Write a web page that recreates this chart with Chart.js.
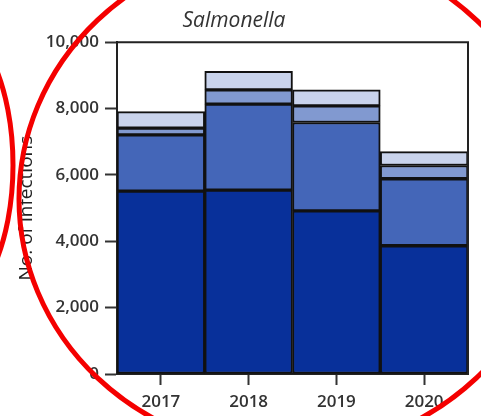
<!DOCTYPE html>
<html>
<head>
<meta charset="utf-8">
<script src="https://cdn.jsdelivr.net/npm/chart.js@4.4.1/dist/chart.umd.min.js"></script>
<style>
  body { margin: 0; background: #fff; }
  canvas { display: block; }
</style>
</head>
<body>
<canvas id="grafica" width="481" height="416"></canvas>
<script>
// Salmonella infections per year, stacked by category (bottom -> top)
var years = ['2017', '2018', '2019', '2020'];
var serieOscura = [5510, 5540, 4915, 3865];
var serieMedia = [1695, 2595, 2665, 2020];
var serieMediaClara = [205, 430, 500, 400];
var serieClara = [500, 555, 485, 415];
var yTicks = [0, 2000, 4000, 6000, 8000, 10000];

var fuente = "'Open Sans', 'DejaVu Sans', sans-serif";

// frame around plot area (top + right lines)
var marco = {
    id: 'marco',
    afterDatasetsDraw: function (chart) {
        var a = chart.chartArea, ctx = chart.ctx;
        ctx.save();
        ctx.strokeStyle = '#222';
        ctx.lineWidth = 2;
        ctx.beginPath();
        ctx.moveTo(a.left, a.top);
        ctx.lineTo(a.right, a.top);
        ctx.lineTo(a.right, a.bottom);
        ctx.stroke();
        ctx.restore();
    }
};

// red hand-drawn style circles that sit over the picture
var circulos = {
    id: 'circulos',
    afterDraw: function (chart) {
        var ctx = chart.ctx;
        ctx.save();
        ctx.strokeStyle = '#f40000';
        ctx.lineWidth = 5;
        ctx.beginPath();
        ctx.ellipse(287, 199, 268, 253, 0, 0, Math.PI * 2);
        ctx.stroke();
        ctx.beginPath();
        ctx.ellipse(-60, 165, 73, 150, 0, 0, Math.PI * 2);
        ctx.stroke();
        ctx.restore();
    }
};

var fondo = {
    id: 'fondo',
    beforeDraw: function (chart) {
        var ctx = chart.ctx;
        ctx.save();
        ctx.fillStyle = '#fff';
        ctx.fillRect(0, 0, chart.width, chart.height);
        ctx.restore();
    }
};

var ctx = document.getElementById('grafica').getContext('2d');
var myChart = new Chart(ctx, {
    type: 'bar',
    data: {
        labels: years,
        datasets: [{
            data: serieOscura,
            backgroundColor: '#08309a'
        }, {
            data: serieMedia,
            backgroundColor: '#4466b8'
        }, {
            data: serieMediaClara,
            backgroundColor: '#8199d0'
        }, {
            data: serieClara,
            backgroundColor: '#c9d3ec'
        }]
    },
    options: {
        responsive: false,
        animation: false,
        layout: { padding: { left: 0, right: 13, top: 0, bottom: 0 } },
        datasets: {
            bar: {
                categoryPercentage: 1,
                barPercentage: 1,
                borderWidth: 2,
                borderColor: '#111',
                borderSkipped: false
            }
        },
        plugins: {
            legend: { display: false },
            tooltip: { enabled: false },
            title: {
                display: true,
                text: 'Salmonella',
                color: '#333',
                font: { family: fuente, size: 21, style: 'italic', weight: 'normal' },
                padding: { top: 8, bottom: 9 }
            }
        },
        scales: {
            x: {
                stacked: true,
                grid: {
                    offset: false,
                    drawOnChartArea: false,
                    drawTicks: true,
                    tickLength: 11,
                    tickWidth: 2,
                    tickColor: '#333'
                },
                border: { color: '#222', width: 2 },
                ticks: {
                    color: '#333',
                    padding: 7,
                    font: { family: fuente, size: 17, weight: '600' }
                },
                afterFit: function (scale) { scale.height = 42; }
            },
            y: {
                stacked: true,
                min: 0,
                max: 10000,
                afterBuildTicks: function (scale) {
                    scale.ticks = yTicks.map(function (v) { return { value: v }; });
                },
                grid: {
                    drawOnChartArea: false,
                    drawTicks: true,
                    tickLength: 12,
                    tickWidth: 2,
                    tickColor: '#333'
                },
                border: { color: '#222', width: 2 },
                ticks: {
                    color: '#333',
                    padding: 6,
                    font: { family: fuente, size: 17, weight: '600' },
                    callback: function (v) { return v.toLocaleString('en-US'); }
                },
                title: {
                    display: true,
                    text: 'No. of infections',
                    color: '#222',
                    font: { family: fuente, size: 19 },
                    padding: { top: 15, bottom: 0 }
                },
                afterFit: function (scale) { scale.width = 117; }
            }
        }
    },
    plugins: [fondo, marco, circulos]
});
</script>
</body>
</html>
